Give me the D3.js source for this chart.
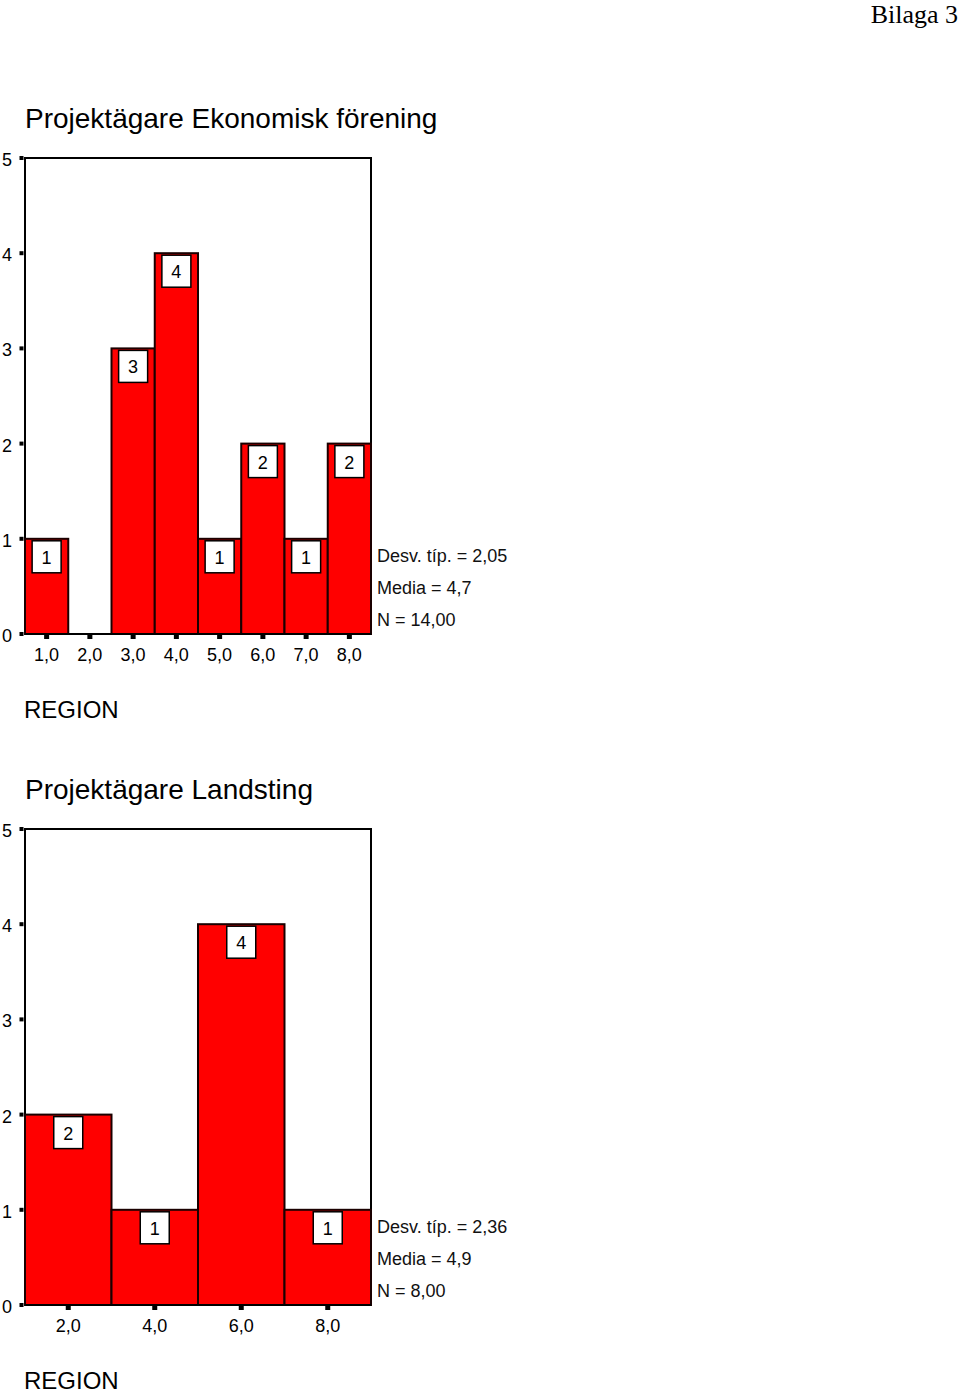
<!DOCTYPE html>
<html><head><meta charset="utf-8">
<script src="https://cdn.jsdelivr.net/npm/d3@7"></script>
<style>body{margin:0;background:#fff;}svg{display:block;}</style>
</head><body>
<script>
// Chart 1 data
const cats1 = ["1,0","2,0","3,0","4,0","5,0","6,0","7,0","8,0"];
const vals1 = [1,0,3,4,1,2,1,2];
const title1 = "Projektägare Ekonomisk förening";
const stats1 = ["Desv. típ. = 2,05","Media = 4,7","N = 14,00"];
// Chart 2 data
const cats2 = ["2,0","4,0","6,0","8,0"];
const vals2 = [2,1,4,1];
const title2 = "Projektägare Landsting";
const stats2 = ["Desv. típ. = 2,36","Media = 4,9","N = 8,00"];
const yTicks = [0,1,2,3,4,5];
const xLabel = "REGION";

const W = 960, H = 1394;
const svg = d3.select("body").append("svg").attr("width",W).attr("height",H);
const font = "Liberation Sans, Arial, sans-serif";

svg.append("text").attr("x",958).attr("y",23).attr("text-anchor","end")
  .attr("font-family","Liberation Serif, Times New Roman, serif").attr("font-size",26)
  .text("Bilaga 3");

function hist(cats, vals, title, stats, top) {
  const x0 = 25, x1 = 371, yTop = top, yBot = top + 476;
  const x = d3.scaleBand().domain(cats).range([x0,x1]).padding(0);
  const y = d3.scaleLinear().domain([0,5]).range([yBot,yTop]);
  const g = svg.append("g");
  g.append("text").attr("x",25).attr("y",yTop-30).attr("font-family",font).attr("font-size",28).text(title);
  // frame
  g.append("path").attr("d",`M${x0},${yBot}V${yTop}H${x1}V${yBot}`).attr("fill","none").attr("stroke","#000").attr("stroke-width",2);
  // bars
  g.selectAll("rect.bar").data(vals).join("rect").attr("class","bar")
    .attr("x",(d,i)=>x(cats[i])).attr("width",x.bandwidth())
    .attr("y",d=>y(d)).attr("height",d=>yBot-y(d))
    .attr("fill","#ff0000").attr("stroke","#1a0000").attr("stroke-width",2);
  // bottom axis line
  g.append("line").attr("x1",x0).attr("x2",x1).attr("y1",yBot).attr("y2",yBot).attr("stroke","#000").attr("stroke-width",2);
  // value label boxes
  const lb = g.selectAll("g.lab").data(vals.map((v,i)=>({v,c:cats[i]})).filter(d=>d.v>0)).join("g").attr("class","lab");
  lb.append("rect").attr("x",d=>x(d.c)+x.bandwidth()/2-14.5).attr("y",d=>y(d.v)+2).attr("width",29).attr("height",32)
    .attr("fill","#fff").attr("stroke","#000").attr("stroke-width",1.5);
  lb.append("text").attr("x",d=>x(d.c)+x.bandwidth()/2).attr("y",d=>y(d.v)+25).attr("text-anchor","middle")
    .attr("font-family",font).attr("font-size",18).text(d=>d.v);
  // y ticks
  yTicks.forEach(t=>{
    g.append("rect").attr("x",19.5).attr("y",y(t)-2).attr("width",4).attr("height",4).attr("fill","#000");
    g.append("text").attr("x",7).attr("y",y(t)+8).attr("text-anchor","middle").attr("font-family",font).attr("font-size",18).text(t);
  });
  // x ticks
  cats.forEach(c=>{
    const cx = x(c)+x.bandwidth()/2;
    g.append("rect").attr("x",cx-2.5).attr("y",yBot+1).attr("width",5).attr("height",4).attr("fill","#000");
    g.append("text").attr("x",cx).attr("y",yBot+27).attr("text-anchor","middle").attr("font-family",font).attr("font-size",18).text(c);
  });
  // stats
  stats.forEach((s,i)=>{
    g.append("text").attr("x",377).attr("y",yBot-72+i*32).attr("font-family",font).attr("font-size",18).attr("fill","#111").text(s);
  });
  g.append("text").attr("x",24).attr("y",yBot+84).attr("font-family",font).attr("font-size",24).text(xLabel);
}
hist(cats1, vals1, title1, stats1, 158);
hist(cats2, vals2, title2, stats2, 829);
</script>
</body></html>
